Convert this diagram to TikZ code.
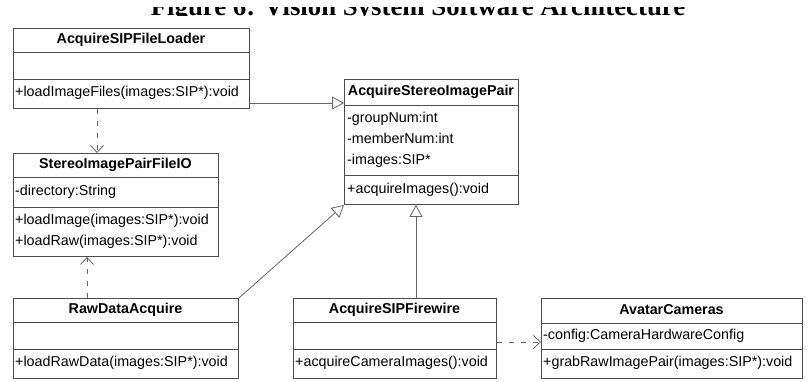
\documentclass[tikz,border=0pt]{standalone}
\usepackage{fontspec}
\setmainfont{Liberation Sans}
\newfontfamily\captionfont{Liberation Serif}
\usetikzlibrary{arrows.meta}

\definecolor{boxgray}{gray}{0.3}
\definecolor{linegray}{gray}{0.4}

\begin{document}
\begin{tikzpicture}[x=1pt, y=-1pt,
	box/.style={draw=boxgray, line width=0.9pt, anchor=north west, inner sep=0pt},
	classname/.style={font=\fontsize{14.3}{16}\selectfont\bfseries, inner sep=0pt, text height=10pt, text depth=3pt},
	member/.style={font=\fontsize{14.3}{16}\selectfont, anchor=west, inner sep=0pt, text height=10pt, text depth=3pt},
	inherit/.style={draw=linegray, line width=0.8pt, -{Triangle[open, length=12pt, width=13pt]}},
	uses/.style={draw=linegray, line width=0.8pt, dash pattern=on 5pt off 7pt, -{Straight Barb[length=7pt, width=13pt]}}]
	\useasboundingbox (0, 0) rectangle (809, 381);

	% caption, only its lower half shows
	\begin{scope}
		\clip (0, 7) rectangle (809, 15.5);
		\node[anchor=base, inner sep=0pt, font=\captionfont\fontsize{26.8}{28}\selectfont\bfseries] (caption) at (418, 15.5) {Figure 6: Vision System Software Architecture};
	\end{scope}

	% class boxes
	\node[box, minimum width=236pt, minimum height=80pt] (loader) at (13, 28) {};
	\node[box, minimum width=205pt, minimum height=103pt] (fileio) at (13, 153) {};
	\node[box, minimum width=174pt, minimum height=125pt] (asip) at (344, 79) {};
	\node[box, minimum width=225pt, minimum height=80pt] (rawdata) at (13, 298) {};
	\node[box, minimum width=203pt, minimum height=80pt] (firewire) at (293, 298) {};
	\node[box, minimum width=261pt, minimum height=80pt] (avatar) at (541, 298) {};

	\foreach \b/\y in {loader/52, loader/79, fileio/177, fileio/207, asip/105, asip/175,
			rawdata/322, rawdata/349, firewire/322, firewire/349, avatar/323, avatar/349} {
		\draw[boxgray, line width=0.9pt] (\b.west |- 0, \y) -- (\b.east |- 0, \y);
	}

	\node[classname] (loadername) at (131, 40) {AcquireSIPFileLoader};
	\node[member] (loader0) at (15, 93) {+loadImageFiles(images:SIP*):void};

	\node[classname] (fileioname) at (115.5, 165) {StereoImagePairFileIO};
	\node[member] (fileio0) at (15, 192) {-directory:String};
	\node[member] (fileio1) at (15, 221) {+loadImage(images:SIP*):void};
	\node[member] (fileio2) at (15, 242) {+loadRaw(images:SIP*):void};

	\node[classname] (asipname) at (431, 92) {AcquireStereoImagePair};
	\node[member] (asip0) at (347, 119) {-groupNum:int};
	\node[member] (asip1) at (347, 140) {-memberNum:int};
	\node[member] (asip2) at (347, 161) {-images:SIP*};
	\node[member] (asip3) at (347, 190) {+acquireImages():void};

	\node[classname] (rawdataname) at (125.5, 310) {RawDataAcquire};
	\node[member] (rawdata0) at (15, 363) {+loadRawData(images:SIP*):void};

	\node[classname] (firewirename) at (394.5, 310) {AcquireSIPFirewire};
	\node[member] (firewire0) at (295, 363) {+acquireCameraImages():void};

	\node[classname] (avatarname) at (671.5, 311) {AvatarCameras};
	\node[member] (avatar0) at (543, 336) {-config:CameraHardwareConfig};
	\node[member] (avatar1) at (543, 363) {+grabRawImagePair(images:SIP*):void};

	% relations
	\draw[inherit] (loader.east |- 0, 103) -- (asip.west |- 0, 103);
	\draw[inherit] (rawdata.north east) -- (asip.south west);
	\draw[inherit] (firewire.north -| 416, 0) -- (asip.south -| 416, 0);
	\draw[uses] (loader.south -| 97, 0) -- (fileio.north -| 97, 0);
	\draw[uses] (rawdata.north -| 87, 0) -- (fileio.south -| 87, 0);
	\draw[uses] (firewire.east |- 0, 342) -- (avatar.west |- 0, 342);
\end{tikzpicture}
\end{document}
